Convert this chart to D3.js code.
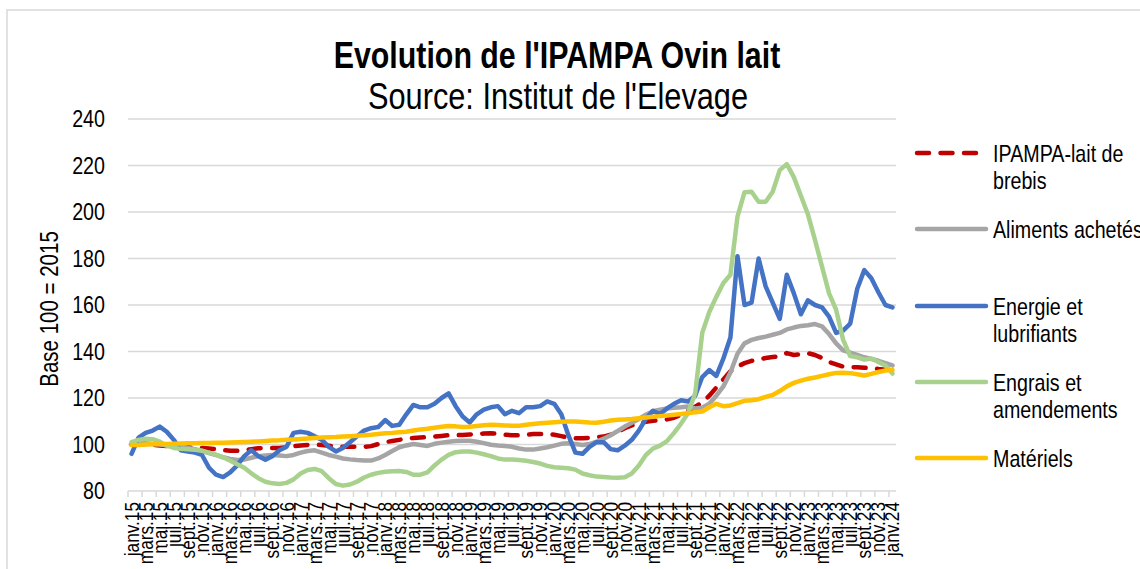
<!DOCTYPE html>
<html>
<head>
<meta charset="utf-8">
<script src="https://cdn.jsdelivr.net/npm/d3@7"></script>
<style>
  body { margin: 0; background: #fff; }
  svg { display: block; }
  text { font-family: "Liberation Sans", Arial, sans-serif; fill: #000; }
</style>
</head>
<body>
<svg id="chart" width="1140" height="569"></svg>
<script>
// month names and years used for the category axis
var monthNames = ["janv", "févr", "mars", "avr", "mai", "juin", "juil", "août", "sept", "oct", "nov", "déc"];
var years = ["15", "16", "17", "18", "19", "20", "21", "22", "23", "24"];

var yTicks = [80, 100, 120, 140, 160, 180, 200, 220, 240];

var seriesNames = ["IPAMPA-lait de brebis", "Aliments achetés", "Energie et lubrifiants", "Engrais et amendements", "Matériels"];

// IPAMPA-lait de brebis
var ipampa = [100, 100, 100, 99.8, 99.6, 99.4, 99.2, 99, 98.8, 98.6, 98.5, 98.3,
  98, 97.6, 97.3, 97.3, 97.6, 98, 98.4, 98.5, 98.5, 98.5, 98.8, 99.3,
  99.6, 99.8, 100, 99.8, 99.5, 99.2, 99, 99, 99, 99, 99.3, 100.2,
  101, 101.5, 102, 102.5, 102.8, 103, 103.2, 103.4, 103.7, 104, 104, 104.1,
  104.3, 104.5, 104.7, 104.8, 104.6, 104.2, 104, 104, 104.2, 104.5, 104.5, 104.5,
  104.2, 103.6, 103, 102.7, 102.7, 102.8, 103.2, 103.4, 104.2, 105.5, 107, 108.2,
  109.2, 109.8, 110.2, 110.6, 110.8, 111.5, 112.8, 114.5, 116.3, 118, 121, 124.5,
  128, 131.5, 133.5, 135, 136, 136.5, 137.2, 137.6, 138, 139.3, 138.5, 138.8,
  139.3, 138.5, 137.2, 135.5, 134.5, 133.5, 133.3, 133.2, 133, 132.9, 132.5, 132.2,
  132];

// Aliments achetés
var aliments = [100, 100.5, 100.5, 100.2, 100, 99.7, 99.3, 99, 98.5, 98, 97.2, 96.3,
  95.5, 94.5, 93.8, 93.3, 93.5, 94.3, 95, 95.3, 95.5, 95.3, 95, 95.5,
  96.5, 97.2, 97.5, 96.5, 95.5, 94.8, 94, 93.6, 93.3, 93.1, 93.1, 94,
  95.5, 97.2, 98.8, 99.6, 100.2, 99.8, 99.4, 100.3, 100.8, 101.2, 101.5, 101.6,
  101.6, 101.2, 100.6, 99.9, 99.6, 99.4, 99, 98.3, 97.8, 97.8, 98.3, 98.8,
  99.5, 100.3, 100.5, 100.2, 99.8, 100.2, 101.2, 102.5, 104, 105.8, 107.7, 109.3,
  111, 112.8, 114.3, 115, 115.5, 115.8, 116, 116.3, 115.5, 115.8, 117.5, 121,
  125, 131, 139, 143.5, 145, 145.8, 146.4, 147.2, 148, 149.5, 150.3, 151,
  151.3, 151.8, 150.8, 147.5, 143.5, 140.5, 139.5, 138.5, 137.5, 136.8, 136, 135,
  134];

// Energie et lubrifiants
var energie = [96, 103, 105, 106, 107.7, 105.5, 102, 97.5, 97, 96.5, 95.5, 90,
  87, 86, 88, 91, 95, 97.5, 95, 93.5, 95, 97.5, 99, 105,
  105.5, 105, 103.5, 102, 99, 97, 98.5, 101, 103.5, 106, 107, 107.5,
  110.5, 108, 108.5, 113, 117, 116, 116, 117.5, 120, 122, 116.5, 112,
  109.5, 113, 115, 116, 116.5, 113, 114.5, 113.5, 116, 116, 116.5, 118.5,
  117.5, 113, 104, 96.5, 96, 99, 101, 101, 98, 97.5, 99.5, 102,
  106, 111, 114.5, 113, 115.5, 117.5, 119, 118.5, 121, 129, 132, 129.5,
  137, 146, 181, 160, 161, 180, 168, 161, 154, 173, 165, 156,
  162, 160, 159, 155, 148, 149, 152, 167, 175, 171.5, 165.5, 160,
  159];

// Engrais et amendements
var engrais = [101, 102, 102.5, 102.3, 101.2, 99.5, 98.5, 98.2, 98, 97.7, 97.3, 96.5,
  95.5, 94.5, 93, 91.5, 90, 87.6, 85.5, 84, 83.3, 83, 83.5, 85,
  87.5, 89, 89.5, 88.5, 85.5, 83, 82.3, 82.8, 84, 85.8, 87, 87.8,
  88.3, 88.5, 88.6, 88.2, 87, 87, 88, 91, 93.5, 95.5, 96.7, 97,
  97, 96.5, 95.8, 95, 94, 93.5, 93.5, 93.3, 93, 92.5, 91.8, 90.8,
  90.2, 90, 89.8, 89.2, 87.5, 86.8, 86.2, 86, 85.8, 85.7, 85.9, 87.5,
  91, 95.5, 98.2, 99.5, 101.5, 105, 109, 113.5, 122, 148, 157, 163.5,
  169.5, 173, 198, 208.5, 208.7, 204.4, 204.4, 208.7, 218, 220.6, 215, 207,
  199, 188, 176.5, 165, 158, 145, 138, 137.5, 136.5, 137, 135.5, 134,
  130.5];

// Matériels
var materiels = [99.8, 99.8, 100, 100.1, 100.2, 100.2, 100.3, 100.4, 100.5, 100.5, 100.6, 100.6,
  100.7, 100.8, 100.9, 101, 101.1, 101.2, 101.3, 101.5, 101.7, 101.8, 102, 102.2,
  102.4, 102.6, 102.8, 103, 103.1, 103.2, 103.4, 103.6, 103.8, 104, 104.2, 104.5,
  104.8, 105, 105.3, 105.5, 106, 106.5, 106.8, 107.2, 107.6, 108, 107.8, 107.5,
  107.6, 108, 108.3, 108.5, 108.4, 108.2, 108.1, 108.1, 108.5, 108.8, 109.1, 109.4,
  109.6, 109.8, 109.9, 109.9, 109.7, 109.5, 109.4, 109.8, 110.3, 110.6, 110.8, 111,
  111.3, 111.6, 111.9, 112.2, 112.5, 112.8, 113.1, 113.5, 113.9, 114.2, 116, 117.5,
  116.5, 116.8, 117.8, 118.8, 119, 119.5, 120.5, 121.3, 123, 125, 126.5, 127.5,
  128.3, 128.8, 129.5, 130.2, 130.8, 130.9, 130.7, 130.2, 129.7, 130.4, 131.2, 131.8,
  132];

// build the category labels janv.15 ... janv.24
var categories = [];
years.forEach(function(y) {
    monthNames.forEach(function(m) {
        if (categories.length < ipampa.length) categories.push(m + "." + y);
    });
});

var series = [
    { name: seriesNames[0], values: ipampa,    color: "#C00000", dash: "12,11.5", lines: ["IPAMPA-lait de", "brebis"] },
    { name: seriesNames[1], values: aliments,  color: "#A5A5A5", dash: null, lines: ["Aliments achetés"] },
    { name: seriesNames[2], values: energie,   color: "#4472C4", dash: null, lines: ["Energie et", "lubrifiants"] },
    { name: seriesNames[3], values: engrais,   color: "#A9D18E", dash: null, lines: ["Engrais et", "amendements"] },
    { name: seriesNames[4], values: materiels, color: "#FFC000", dash: null, lines: ["Matériels"] }
];

// no narrow font installed, so squeeze a regular one
var NARROW = 0.82;

var svg = d3.select("#chart");

var plot = { left: 128, right: 896, top: 119, bottom: 491 };

var x = d3.scalePoint().domain(categories).range([plot.left, plot.right]).padding(0.5);
var step = x.step();
var y = d3.scaleLinear().domain([80, 240]).range([plot.bottom, plot.top]);

// chart frame
svg.append("rect")
    .attr("x", 7).attr("y", 10)
    .attr("width", 1200).attr("height", 600)
    .attr("fill", "none")
    .attr("stroke", "#D9D9D9")
    .attr("stroke-width", 1.5);

// titles
svg.append("text")
    .attr("transform", "translate(557,68) scale(" + NARROW + ",1)")
    .attr("text-anchor", "middle")
    .style("font-size", "37px")
    .style("font-weight", "bold")
    .text("Evolution de l'IPAMPA Ovin lait");

svg.append("text")
    .attr("transform", "translate(558,109) scale(" + NARROW + ",1)")
    .attr("text-anchor", "middle")
    .style("font-size", "37.5px")
    .text("Source: Institut de l'Elevage");

// gridlines
svg.append("g").selectAll("line")
    .data(yTicks)
    .enter().append("line")
    .attr("x1", plot.left).attr("x2", plot.right)
    .attr("y1", function(d) { return y(d); })
    .attr("y2", function(d) { return y(d); })
    .attr("stroke", "#D9D9D9")
    .attr("stroke-width", 1.5);

// y axis labels
var yAxis = d3.axisLeft(y).tickValues(yTicks).tickSize(0).tickPadding(0);
var gy = svg.append("g").attr("transform", "translate(105,0)").call(yAxis);
gy.select(".domain").remove();
gy.selectAll("text")
    .attr("transform", "scale(" + NARROW + ",1)")
    .style("font-size", "24px")
    .style("font-family", null);

svg.append("text")
    .attr("transform", "translate(58,309) rotate(-90) scale(" + NARROW + ",1)")
    .attr("text-anchor", "middle")
    .style("font-size", "25px")
    .text("Base 100 = 2015");

// x axis: tick marks on category boundaries every 2 months
var tickCats = categories.filter(function(d, i) { return i % 2 === 0; });
svg.append("g").selectAll("line")
    .data(tickCats)
    .enter().append("line")
    .attr("x1", function(d) { return x(d) - step / 2; })
    .attr("x2", function(d) { return x(d) - step / 2; })
    .attr("y1", plot.bottom)
    .attr("y2", plot.bottom + 6)
    .attr("stroke", "#D9D9D9")
    .attr("stroke-width", 1.5);

svg.append("g").selectAll("text")
    .data(tickCats)
    .enter().append("text")
    .attr("transform", function(d) {
        return "translate(" + (x(d) + 7) + ",502) rotate(-90) scale(" + NARROW + ",1)";
    })
    .attr("text-anchor", "end")
    .style("font-size", "21px")
    .text(function(d) { return d; });

// lines
var line = d3.line()
    .x(function(d, i) { return x(categories[i]); })
    .y(function(d) { return y(d); });

svg.append("g").selectAll("path")
    .data(series)
    .enter().append("path")
    .attr("d", function(d) { return line(d.values); })
    .attr("fill", "none")
    .attr("stroke", function(d) { return d.color; })
    .attr("stroke-width", 4.5)
    .attr("stroke-linecap", "round")
    .attr("stroke-linejoin", "round")
    .attr("stroke-dasharray", function(d) { return d.dash; });

// legend
var legendY = [153, 229, 306, 382, 458];
var lg = svg.append("g").selectAll("g")
    .data(series)
    .enter().append("g")
    .attr("transform", function(d, i) { return "translate(0," + legendY[i] + ")"; });

lg.append("line")
    .attr("x1", 917).attr("x2", 986)
    .attr("y1", 0).attr("y2", 0)
    .attr("stroke", function(d) { return d.color; })
    .attr("stroke-width", 4.5)
    .attr("stroke-linecap", "round")
    .attr("stroke-dasharray", function(d) { return d.dash; });

lg.append("text")
    .attr("transform", "translate(993,0) scale(" + NARROW + ",1)")
    .style("font-size", "24px")
    .selectAll("tspan")
    .data(function(d) { return d.lines; })
    .enter().append("tspan")
    .attr("x", 0)
    .attr("y", function(d, i) { return 9 + i * 27; })
    .text(function(d) { return d; });
</script>
</body>
</html>
